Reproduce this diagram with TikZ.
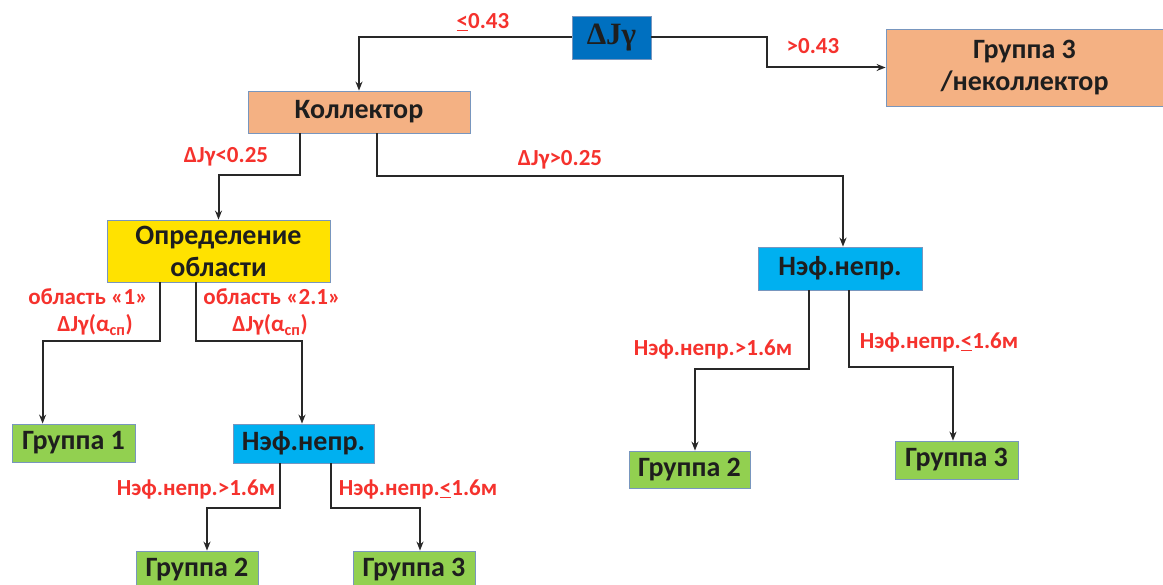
\documentclass[tikz,border=0pt]{standalone}
\usepackage{fontspec}
\setmainfont{Carlito}
\newfontfamily\grserif{Liberation Serif}
\usetikzlibrary{calc,arrows.meta}
\definecolor{lblred}{RGB}{245,50,45}
\definecolor{bxblue}{RGB}{0,112,192}
\definecolor{bxsalmon}{RGB}{244,177,131}
\definecolor{bxyellow}{RGB}{255,226,0}
\definecolor{bxcyan}{RGB}{0,176,240}
\definecolor{bxgreen}{RGB}{146,208,80}
\definecolor{bxedge}{RGB}{120,150,190}
\definecolor{lnc}{RGB}{40,40,40}
\definecolor{txc}{RGB}{30,30,30}
\newcommand\boxfont{\fontsize{28}{32}\selectfont\bfseries}
\newcommand\lblfont{\fontsize{23}{28}\selectfont\bfseries}
\newcommand\djfont{\fontsize{31}{32}\selectfont\grserif\bfseries}
\begin{document}
\begin{tikzpicture}[x=1pt,y=-1pt]
\tikzset{
  nbox/.style={draw=bxedge,line width=0.8pt,inner sep=0pt,align=center,text=txc,font=\boxfont},
  lbl/.style={text=lblred,inner sep=0pt,align=center,font=\lblfont},
  conn/.style={draw=lnc,line width=2pt},
  arr/.style={conn,-{Stealth[length=9pt,width=7pt]}}}
\useasboundingbox (0,0) rectangle (1163,585);
\node[nbox,fill=bxblue,minimum width=79pt,minimum height=43pt,font=\djfont] (dj) at (611.5,37.5) {ΔJγ};
\node[nbox,fill=bxsalmon,minimum width=277pt,minimum height=77pt] (g3top) at (1024.5,67.5) {Группа 3\\/неколлектор};
\node[nbox,fill=bxsalmon,minimum width=222pt,minimum height=42pt] (koll) at (359,112) {Коллектор};
\node[nbox,fill=bxyellow,minimum width=223pt,minimum height=62pt] (opr) at (218.5,251) {Определение\\области};
\node[nbox,fill=bxcyan,minimum width=164pt,minimum height=43pt] (nefR) at (840,268.5) {Нэф.непр.};
\node[nbox,fill=bxgreen,minimum width=123pt,minimum height=38pt] (g1) at (73.5,443) {Группа 1};
\node[nbox,fill=bxcyan,minimum width=141pt,minimum height=39pt] (nefL) at (303.5,443.5) {Нэф.непр.};
\node[nbox,fill=bxgreen,minimum width=122pt,minimum height=38pt] (g2L) at (197,570) {Группа 2};
\node[nbox,fill=bxgreen,minimum width=122pt,minimum height=38pt] (g3L) at (414,570) {Группа 3};
\node[nbox,fill=bxgreen,minimum width=121pt,minimum height=37pt] (g2R) at (689.5,469.5) {Группа 2};
\node[nbox,fill=bxgreen,minimum width=123pt,minimum height=38pt] (g3R) at (956.5,460) {Группа 3};
\draw[arr] (dj.west) -| (koll.north);
\draw[arr] (dj.east) -- ++(116,0) |- (g3top.west);
\draw[arr] ($(koll.south west)+(52,0)$) -- ++(0,42) -| (opr.north);
\draw[arr] ($(koll.south west)+(129,0)$) -- ++(0,43) -| ($(nefR.north)+(3,0)$);
\draw[arr] ($(opr.south west)+(53,0)$) -- ++(0,59) -| ($(g1.north west)+(31,0)$);
\draw[arr] ($(opr.south west)+(89,0)$) -- ++(0,59) -| ($(nefL.north)+(-1.5,0)$);
\draw[arr] ($(nefL.south west)+(47,0)$) -- ++(0,45) -| ($(g2L.north)+(10,0)$);
\draw[arr] ($(nefL.south west)+(98,0)$) -- ++(0,45) -| ($(g3L.north)+(6,0)$);
\draw[arr] ($(nefR.south west)+(51,0)$) -- ++(0,79) -| ($(g2R.north)+(5.5,0)$);
\draw[arr] ($(nefR.south west)+(91,0)$) -- ++(0,77) -| ($(g3R.north)+(-3.5,0)$);
\node[lbl] (l1) at (483,22) {\underline{<}0.43};
\node[lbl] (l2) at (813,46) {>0.43};
\node[lbl] (l3) at (226,157) {ΔJγ<0.25};
\node[lbl] (l4) at (560,160) {ΔJγ>0.25};
\node[lbl] (l5) at (88,297) {область «1»};
\node[lbl] (l6) at (95,325) {ΔJγ(α\textsubscript{сп})};
\node[lbl] (l7) at (272,297) {область «2.1»};
\node[lbl] (l8) at (270,325) {ΔJγ(α\textsubscript{сп})};
\node[lbl] (l9) at (196,490) {Нэф.непр.>1.6м};
\node[lbl] (l10) at (418,490) {Нэф.непр.\underline{<}1.6м};
\node[lbl] (l11) at (713,350) {Нэф.непр.>1.6м};
\node[lbl] (l12) at (939,343) {Нэф.непр.\underline{<}1.6м};
\end{tikzpicture}
\end{document}
